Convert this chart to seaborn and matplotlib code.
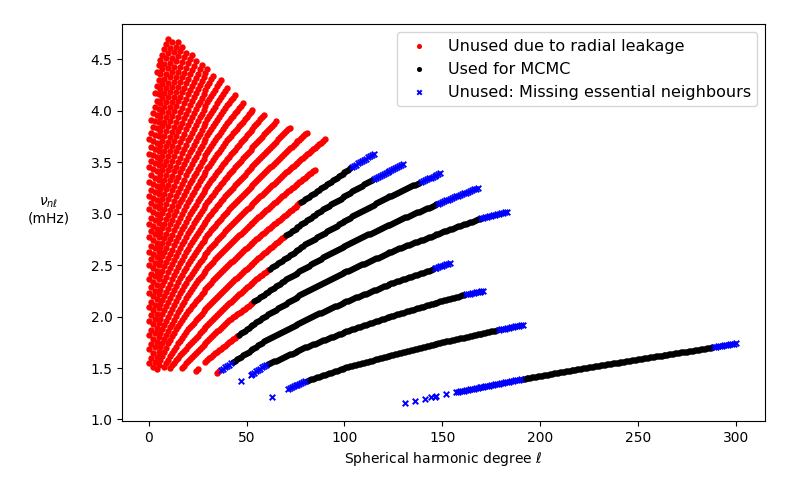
import numpy as np
import pandas as pd
import matplotlib
matplotlib.use("Agg")
import matplotlib.pyplot as plt
import seaborn as sns

# --- mode ridges: (degree l, frequency in mHz) anchors ---
# lowest ridges (f mode and the ones that reach the black "used" band)
f_ell = [130, 150, 170, 190, 220, 250, 280, 300]
f_nu = [1.155, 1.24, 1.315, 1.39, 1.49, 1.585, 1.675, 1.74]
p1_ell = [63, 71, 80, 100, 125, 150, 175, 191]
p1_nu = [1.22, 1.30, 1.37, 1.50, 1.63, 1.75, 1.855, 1.92]
p2_ell = [47, 52, 60, 80, 100, 125, 145, 161, 171]
p2_nu = [1.37, 1.43, 1.53, 1.70, 1.85, 2.01, 2.125, 2.21, 2.25]
p3_ell = [35, 43, 60, 80, 100, 125, 145, 154]
p3_nu = [1.455, 1.56, 1.77, 1.97, 2.14, 2.33, 2.46, 2.52]
p4_ell = [24, 30, 45, 60, 80, 100, 125, 150, 169, 183]
p4_nu = [1.47, 1.58, 1.81, 2.01, 2.24, 2.43, 2.64, 2.82, 2.95, 3.02]
p5_ell = [17, 20, 30, 40, 53.5, 70, 90, 110, 130, 147, 168]
p5_nu = [1.50, 1.57, 1.76, 1.95, 2.14, 2.36, 2.585, 2.78, 2.955, 3.09, 3.25]
p6_ell = [11, 15, 20, 30, 40, 50, 61, 80, 100, 120, 138, 149]
p6_nu = [1.50, 1.60, 1.71, 1.92, 2.11, 2.285, 2.45, 2.70, 2.93, 3.14, 3.30, 3.39]
p7_ell = [8, 10, 15, 20, 30, 40, 50, 60, 69, 90, 114, 130]
p7_nu = [1.51, 1.58, 1.74, 1.875, 2.095, 2.29, 2.465, 2.63, 2.775, 3.054, 3.33, 3.48]
p8_ell = [4, 10, 15, 20, 30, 40, 50, 60, 70, 77, 90, 103, 115]
p8_nu = [1.49, 1.74, 1.91, 2.05, 2.29, 2.49, 2.67, 2.83, 2.99, 3.10, 3.27, 3.44, 3.58]

low_start = [131, 63, 47, 35, 24, 17, 11, 8, 4]
low_stop = [300, 191, 171, 154, 183, 168, 149, 130, 115]
red_stop = [130, 62, 46, 36, 45, 53, 61, 69, 77]
blue_lo_stop = [190, 80, 60, 42, 45, 53, 61, 69, 77]
black_stop = [288, 178, 161, 145, 169, 147, 138, 114, 103]
# (ridge, first missing l, last missing l)
gaps = [(0, 132, 135), (0, 137, 140), (0, 142, 143), (0, 145, 145),
        (0, 148, 151), (0, 153, 156), (1, 64, 70), (2, 48, 51), (4, 26, 28)]

# higher ridges, all red, sampled on a common degree grid
fan_ell = [0, 5, 10, 15, 20, 25, 30, 40, 50, 60, 70, 80, 90]
fan_nu = [
    [1.41, 1.66, 1.86, 2.04, 2.21, 2.35, 2.47, 2.68, 2.86, 3.03, 3.20, 3.35, 3.50],
    [1.55, 1.80, 2.00, 2.19, 2.36, 2.50, 2.63, 2.85, 3.04, 3.22, 3.40, 3.56, 3.72],
    [1.68, 1.94, 2.14, 2.34, 2.51, 2.66, 2.79, 3.02, 3.22, 3.41, 3.60, 3.77, 3.94],
    [1.82, 2.08, 2.28, 2.48, 2.66, 2.81, 2.95, 3.19, 3.40, 3.60, 3.80, 3.98],
    [1.96, 2.22, 2.43, 2.63, 2.81, 2.97, 3.11, 3.36, 3.58, 3.79, 4.00],
    [2.09, 2.36, 2.57, 2.77, 2.96, 3.12, 3.27, 3.53, 3.76, 3.98],
    [2.23, 2.50, 2.71, 2.92, 3.11, 3.28, 3.44, 3.71, 3.94, 4.17],
    [2.36, 2.63, 2.85, 3.07, 3.26, 3.43, 3.60, 3.88, 4.12],
    [2.50, 2.77, 2.99, 3.21, 3.41, 3.59, 3.76, 4.05, 4.30],
    [2.63, 2.91, 3.14, 3.36, 3.56, 3.74, 3.92, 4.22],
    [2.77, 3.05, 3.28, 3.50, 3.71, 3.90, 4.08, 4.39],
    [2.90, 3.19, 3.42, 3.65, 3.86, 4.05, 4.24, 4.56],
    [3.04, 3.33, 3.56, 3.80, 4.01, 4.21, 4.40],
    [3.17, 3.47, 3.70, 3.94, 4.16, 4.36, 4.56],
    [3.31, 3.61, 3.85, 4.09, 4.31, 4.52],
    [3.45, 3.75, 3.99, 4.23, 4.46, 4.67],
    [3.58, 3.89, 4.13, 4.38, 4.61],
    [3.72, 4.02, 4.27, 4.53, 4.76],
    [3.85, 4.16, 4.41, 4.67],
    [3.99, 4.30, 4.56, 4.82],
    [4.12, 4.44, 4.70],
]
fan_start = [2, 0, 0, 0, 0, 0, 0, 0, 0, 0, 0, 0, 0, 0, 0, 0, 0, 0, 1, 3, 4]
fan_stop = [85, 90, 81, 72, 65, 59, 53, 48, 44, 40, 37, 33, 30, 27, 24, 22, 19, 17, 15, 12, 10]

RED = "Unused due to radial leakage"
BLACK = "Used for MCMC"
BLUE = "Unused: Missing essential neighbours"

low_ridges = [(f_ell, f_nu), (p1_ell, p1_nu), (p2_ell, p2_nu), (p3_ell, p3_nu),
              (p4_ell, p4_nu), (p5_ell, p5_nu), (p6_ell, p6_nu), (p7_ell, p7_nu),
              (p8_ell, p8_nu)]

rows = []
for k, (le, nu) in enumerate(low_ridges):
    ell = np.arange(low_start[k], low_stop[k] + 1)
    for g in gaps:
        if g[0] == k:
            ell = ell[(ell < g[1]) | (ell > g[2])]
    freq = np.interp(ell, le, nu)
    for l, v in zip(ell, freq):
        if l <= red_stop[k]:
            s = RED
        elif l <= blue_lo_stop[k]:
            s = BLUE
        elif l <= black_stop[k]:
            s = BLACK
        else:
            s = BLUE
        rows.append((l, v, s))

for k, nu in enumerate(fan_nu):
    ell = np.arange(fan_start[k], fan_stop[k] + 1)
    freq = np.interp(ell, fan_ell[:len(nu)], nu)
    for l, v in zip(ell, freq):
        rows.append((l, v, RED))

df = pd.DataFrame(rows, columns=["ell", "nu", "status"])

fig, ax = plt.subplots(figsize=(7.89, 4.93), dpi=100)
fig.subplots_adjust(left=0.155, right=0.97, bottom=0.146, top=0.951)

sns.scatterplot(data=df[df.status == RED], x="ell", y="nu", color="red",
                marker="o", s=21, linewidth=0, label=RED, ax=ax)
sns.scatterplot(data=df[df.status == BLACK], x="ell", y="nu", color="black",
                marker="o", s=21, linewidth=0, label=BLACK, ax=ax)
sns.scatterplot(data=df[df.status == BLUE], x="ell", y="nu", color="blue",
                marker="x", s=16, linewidth=1.4, label=BLUE, ax=ax)

ax.set_xlim(-13.5, 315)
ax.set_ylim(0.985, 4.84)
ax.set_xlabel("Spherical harmonic degree $\\ell$")
ax.set_ylabel("$\\nu_{n\\ell}$\n(mHz)", rotation=0, ha="center", va="center")
ax.yaxis.set_label_coords(-0.115, 0.53)
ax.legend(loc="upper right", fontsize=11.5, markerscale=0.8)

fig.savefig("out.png", dpi=100)
